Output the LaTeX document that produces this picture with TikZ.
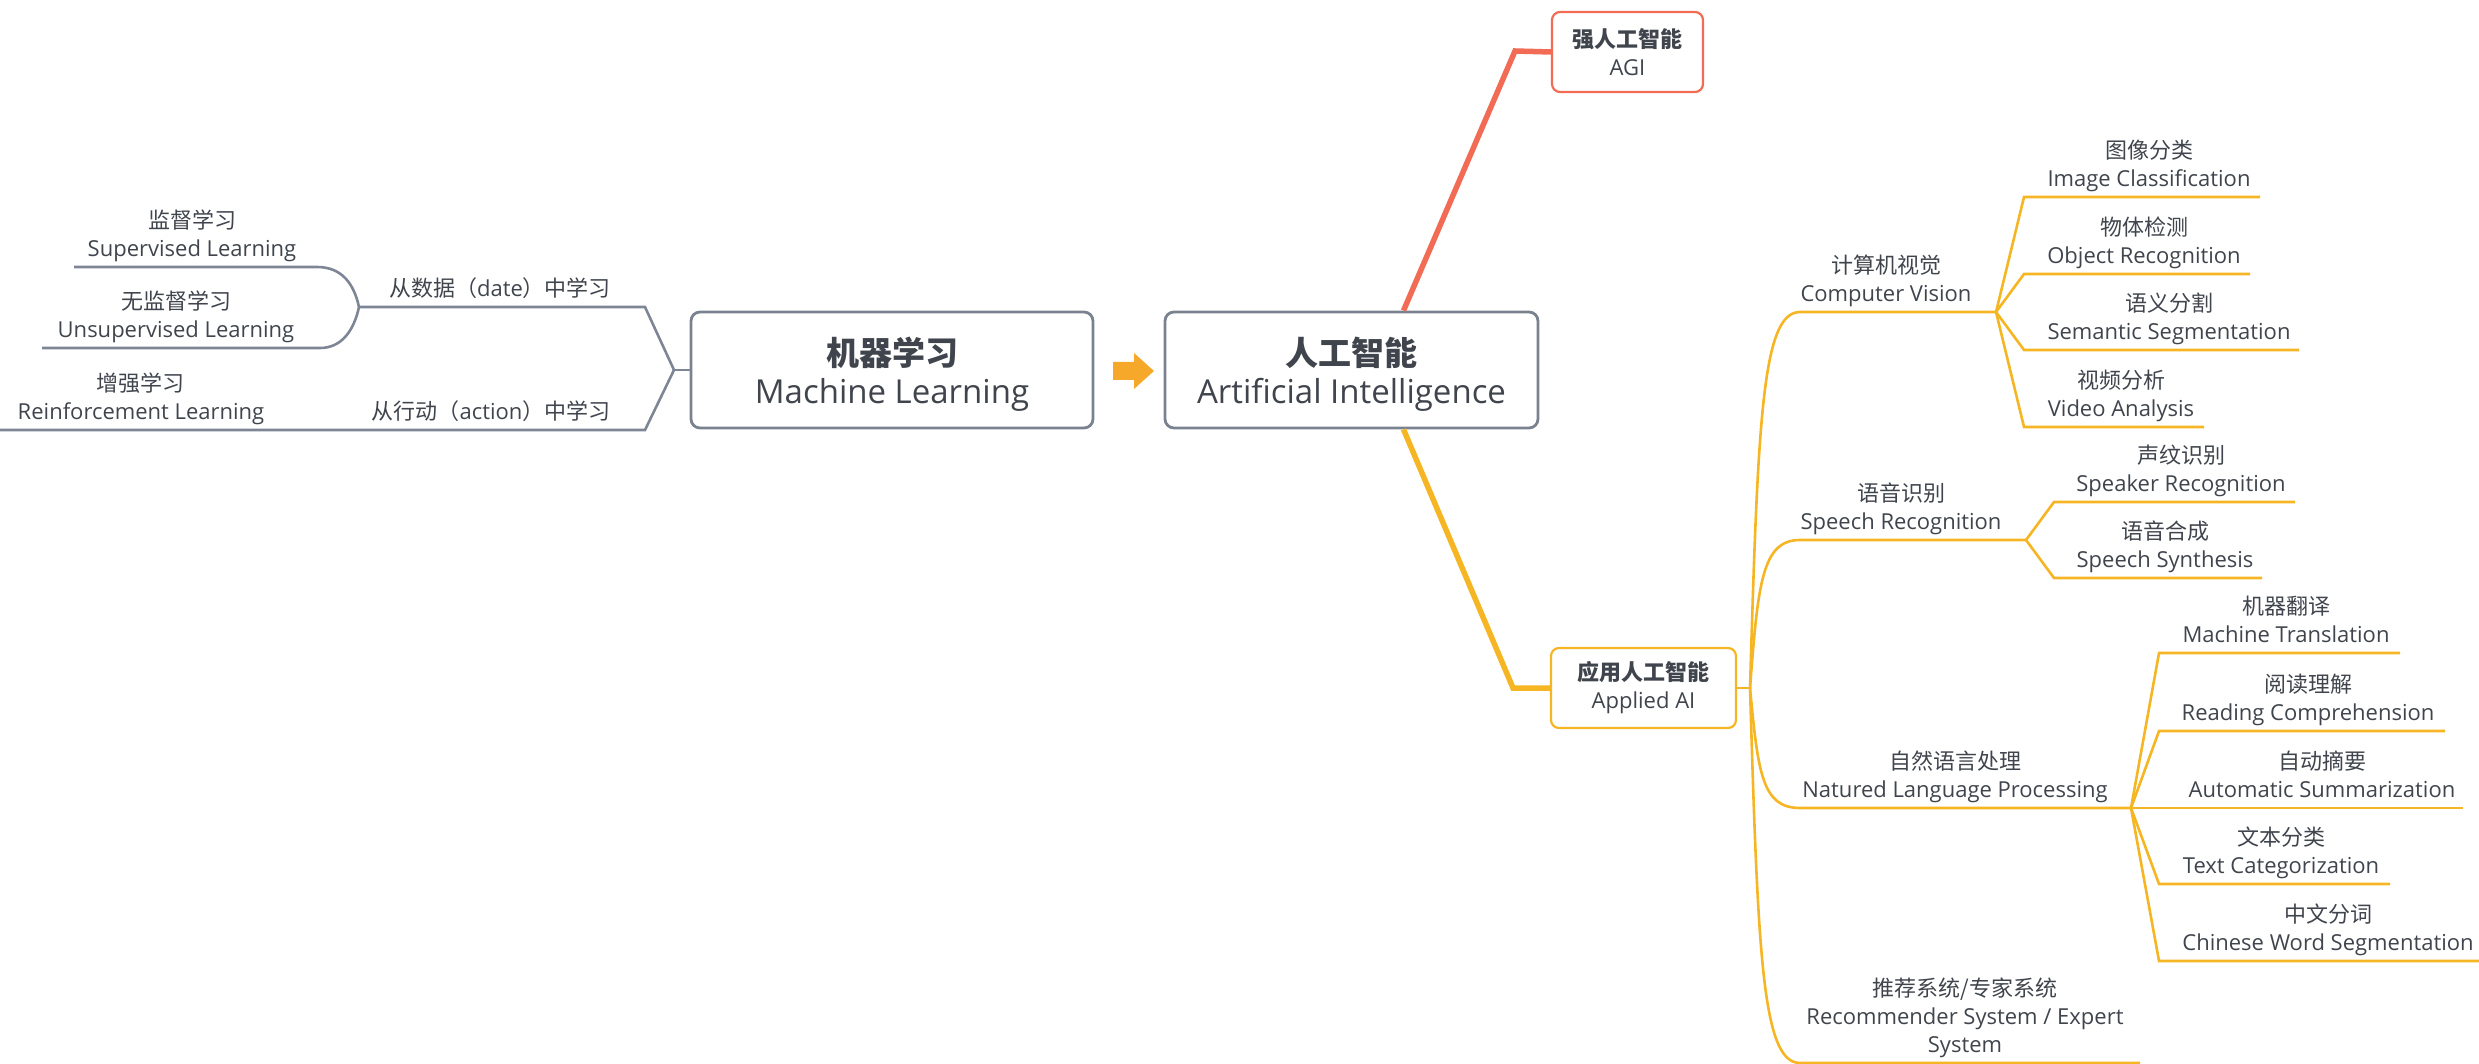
\documentclass[tikz,border=0pt]{standalone}
\usepackage{fontspec}
\setmainfont{Open Sans}
\newfontfamily\cjk{Noto Sans CJK SC}
\definecolor{txt}{HTML}{40454D}
\definecolor{gl}{HTML}{7E8696}
\definecolor{bx}{HTML}{7A8290}
\definecolor{rd}{HTML}{F26B55}
\definecolor{yl}{HTML}{F6B624}
\definecolor{ar}{HTML}{F5A82A}
\begin{document}
\begin{tikzpicture}[x=1pt,y=-1pt,
 lbl/.style={anchor=south,align=center,inner sep=0pt,text depth=5.5pt,font=\fontsize{22}{28}\selectfont,text=txt},
 mainbox/.style={draw=bx,line width=2.8pt,rounded corners=9pt,fill=white,align=center,font=\fontsize{33}{38}\selectfont,text=txt,minimum height=116pt,text depth=0pt},
 subbox/.style={line width=2.2pt,rounded corners=8pt,fill=white,align=center,font=\fontsize{22}{28}\selectfont,text=txt,minimum height=80pt},
 gline/.style={draw=gl,line width=2.6pt},
 yline/.style={draw=yl,line width=2.6pt},
 redbranch/.style={draw=rd,line width=5.5pt},
 ylwbranch/.style={draw=yl,line width=5.5pt}]
\useasboundingbox (0,0) rectangle (2479,1064);

% main boxes
\node[mainbox,minimum width=402pt] (ml) at (892,370) {{\cjk\bfseries 机器学习}\\Machine Learning};
\node[mainbox,minimum width=373pt] (ai) at (1351.5,370) {{\cjk\bfseries 人工智能}\\Artificial Intelligence};
\node[subbox,draw=rd,minimum width=151pt] (agi) at (1627.5,52) {{\cjk\bfseries 强人工智能}\\AGI};
\node[subbox,draw=yl,minimum width=185pt] (app) at (1643.5,688) {{\cjk\bfseries 应用人工智能}\\Applied AI};

% arrow between ML and AI
\fill[ar] (1113,362) -- (1134,362) -- (1134,353) -- (1154,371) -- (1134,389) -- (1134,380) -- (1113,380) -- cycle;

% left labels
\node[lbl] (sup) at (192,262) {{\cjk 监督学习}\\Supervised Learning};
\node[lbl] (uns) at (176,343) {{\cjk 无监督学习}\\Unsupervised Learning};
\node[lbl] (rein) at (141,425) {{\cjk 增强学习}\\Reinforcement Learning};
\node[lbl] (data) at (500,302) {{\cjk 从数据（}date{\cjk ）中学习}};
\node[lbl] (act) at (491,425) {{\cjk 从行动（}action{\cjk ）中学习}};

% left connectors
\coordinate (mlj) at (674,370);
\coordinate (data-r) at (645,307);
\coordinate (data-l) at (359,307);
\coordinate (sup-r) at (317,267);
\coordinate (sup-l) at (74,267);
\coordinate (uns-r) at (320,348);
\coordinate (uns-l) at (42,348);
\coordinate (act-r) at (645,430);
\coordinate (rein-l) at (0,430);
\draw[gline] (ml.west) -- (mlj);
\draw[gline] (mlj) -- (data-r) -- (data-l);
\draw[gline] (data-l) .. controls (354,284) and (342,267) .. (sup-r) -- (sup-l);
\draw[gline] (data-l) .. controls (354,330) and (342,348) .. (uns-r) -- (uns-l);
\draw[gline] (mlj) -- (act-r) -- (rein-l);

% AI branches
\coordinate (agij) at (1515,51);
\coordinate (appk) at (1513,688);
\draw[redbranch] ([xshift=52pt]ai.north) -- (agij) -- (agi.west);
\draw[ylwbranch] ([xshift=52pt]ai.south) -- (appk) -- (app.west);

% right labels
\node[lbl] (cv) at (1886,307) {{\cjk 计算机视觉}\\Computer Vision};
\node[lbl] (ic) at (2149,192) {{\cjk 图像分类}\\Image Classification};
\node[lbl] (obj) at (2144,269) {{\cjk 物体检测}\\Object Recognition};
\node[lbl] (ss) at (2169,345) {{\cjk 语义分割}\\Semantic Segmentation};
\node[lbl] (va) at (2121,422) {{\cjk 视频分析}\\Video Analysis};
\node[lbl] (sr) at (1901,535) {{\cjk 语音识别}\\Speech Recognition};
\node[lbl] (spr) at (2181,497) {{\cjk 声纹识别}\\Speaker Recognition};
\node[lbl] (sps) at (2165,573) {{\cjk 语音合成}\\Speech Synthesis};
\node[lbl] (nlp) at (1955,803) {{\cjk 自然语言处理}\\Natured Language Processing};
\node[lbl] (mt) at (2286,648) {{\cjk 机器翻译}\\Machine Translation};
\node[lbl] (rc) at (2308,726) {{\cjk 阅读理解}\\Reading Comprehension};
\node[lbl] (as) at (2322,803) {{\cjk 自动摘要}\\Automatic Summarization};
\node[lbl] (tc) at (2281,879) {{\cjk 文本分类}\\Text Categorization};
\node[lbl] (cws) at (2328,956) {{\cjk 中文分词}\\Chinese Word Segmentation};
\node[lbl] (rec) at (1965,1058) {{\cjk 推荐系统/专家系统}\\Recommender System / Expert\\System};

% right connectors
\coordinate (appj) at (1750,688);
\coordinate (cv-l) at (1800,312);   \coordinate (cvj) at (1996,312);
\coordinate (sr-l) at (1800,540);   \coordinate (srj) at (2026,540);
\coordinate (nlp-l) at (1800,808);  \coordinate (nlpj) at (2131,808);
\coordinate (rec-l) at (1800,1063); \coordinate (rec-r) at (2140,1063);
\coordinate (ic-l) at (2024,197);   \coordinate (ic-r) at (2260,197);
\coordinate (obj-l) at (2024,274);  \coordinate (obj-r) at (2250,274);
\coordinate (ss-l) at (2024,350);   \coordinate (ss-r) at (2299,350);
\coordinate (va-l) at (2024,427);   \coordinate (va-r) at (2204,427);
\coordinate (spr-l) at (2054,502);  \coordinate (spr-r) at (2295,502);
\coordinate (sps-l) at (2054,578);  \coordinate (sps-r) at (2262,578);
\coordinate (mt-l) at (2159,653);   \coordinate (mt-r) at (2400,653);
\coordinate (rc-l) at (2159,731);   \coordinate (rc-r) at (2445,731);
\coordinate (as-r) at (2463,808);
\coordinate (tc-l) at (2159,884);   \coordinate (tc-r) at (2390,884);
\coordinate (cws-l) at (2159,961);  \coordinate (cws-r) at (2479,961);

\draw[yline] (app.east) -- (appj);
\draw[yline] (appj) .. controls (1758,420) and (1762,312) .. (cv-l) -- (cvj);
\draw[yline] (appj) .. controls (1758,583) and (1762,540) .. (sr-l) -- (srj);
\draw[yline] (appj) .. controls (1758,773) and (1762,808) .. (nlp-l) -- (nlpj);
\draw[yline] (appj) .. controls (1758,954) and (1762,1063) .. (rec-l) -- (rec-r);

\draw[yline] (cvj) -- (ic-l) -- (ic-r);
\draw[yline] (cvj) -- (obj-l) -- (obj-r);
\draw[yline] (cvj) -- (ss-l) -- (ss-r);
\draw[yline] (cvj) -- (va-l) -- (va-r);

\draw[yline] (srj) -- (spr-l) -- (spr-r);
\draw[yline] (srj) -- (sps-l) -- (sps-r);

\draw[yline] (nlpj) -- (mt-l) -- (mt-r);
\draw[yline] (nlpj) -- (rc-l) -- (rc-r);
\draw[yline] (nlpj) -- (as-r);
\draw[yline] (nlpj) -- (tc-l) -- (tc-r);
\draw[yline] (nlpj) -- (cws-l) -- (cws-r);
\end{tikzpicture}
\end{document}
